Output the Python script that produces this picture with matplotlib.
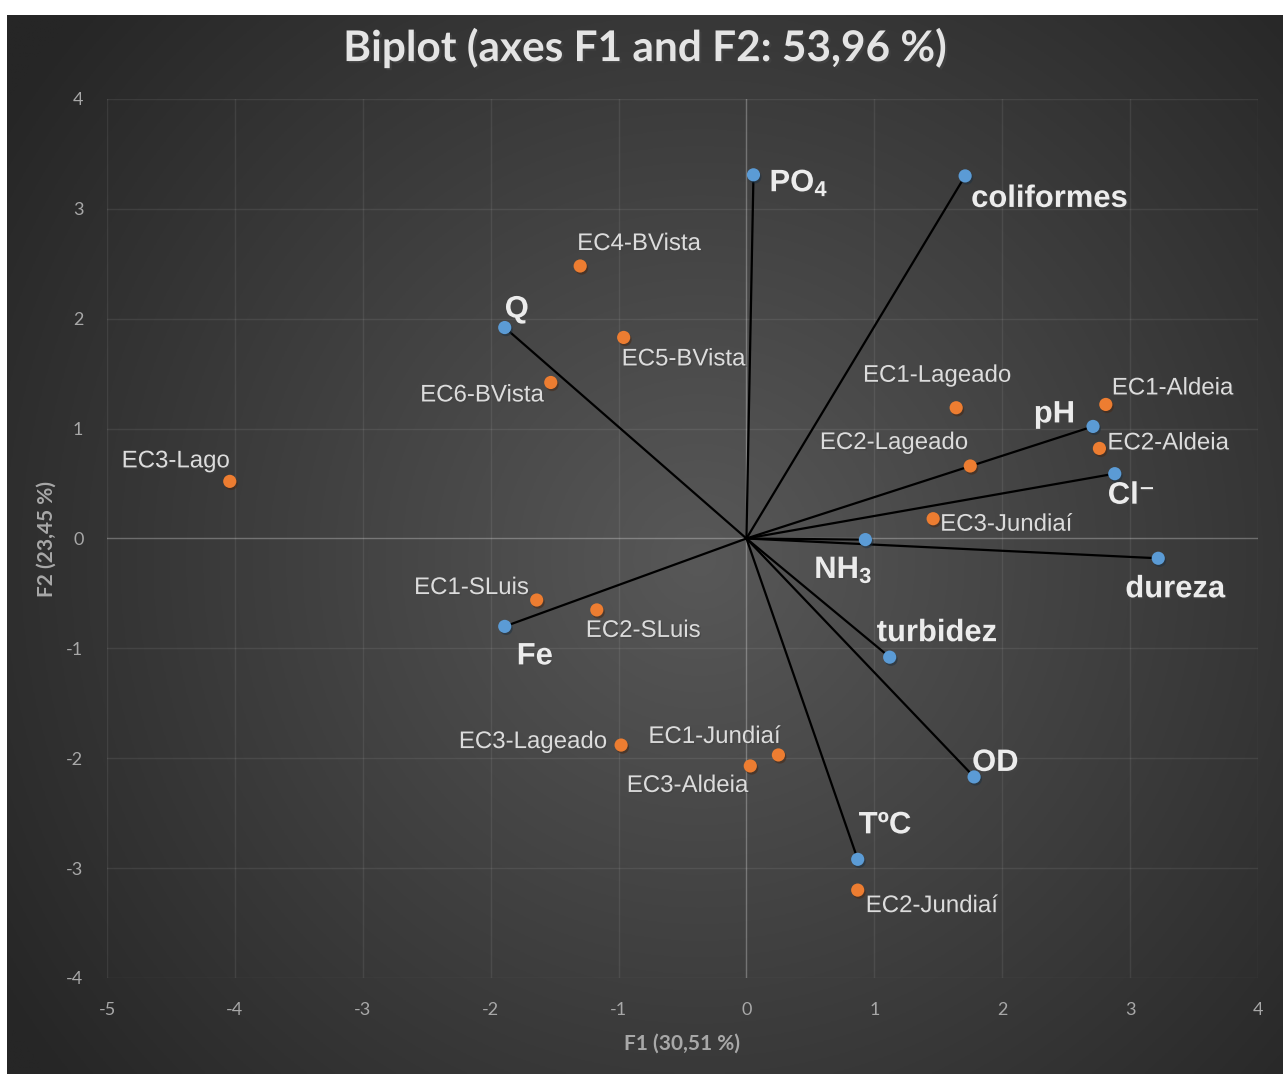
import numpy as np
import matplotlib
matplotlib.use("Agg")
import matplotlib.pyplot as plt
import matplotlib.patheffects as pe

# ---------------- data ----------------
obs_names = ["EC4-BVista", "EC5-BVista", "EC6-BVista", "EC3-Lago", "EC1-Lageado",
             "EC1-Aldeia", "EC2-Aldeia", "EC2-Lageado", "EC3-Jundiaí", "EC1-SLuis",
             "EC2-SLuis", "EC3-Lageado", "EC1-Jundiaí", "EC3-Aldeia", "EC2-Jundiaí"]
obs_f1 = [-1.30, -0.96, -1.53, -4.04, 1.64, 2.81, 2.76, 1.75, 1.46, -1.64,
          -1.17, -0.98, 0.25, 0.03, 0.87]
obs_f2 = [2.48, 1.83, 1.42, 0.52, 1.19, 1.22, 0.82, 0.66, 0.18, -0.56,
          -0.65, -1.88, -1.97, -2.07, -3.20]

var_names = ["PO$_{4}$", "coliformes", "Q", "pH", "Cl⁻", "NH$_{3}$",
             "dureza", "Fe", "turbidez", "OD", "TºC"]
var_f1 = [0.055, 1.71, -1.89, 2.71, 2.88, 0.93, 3.22, -1.89, 1.12, 1.78, 0.87]
var_f2 = [3.31, 3.30, 1.92, 1.02, 0.59, -0.01, -0.18, -0.80, -1.08, -2.17, -2.92]

x_ticks = [-5, -4, -3, -2, -1, 0, 1, 2, 3, 4]
y_ticks = [-4, -3, -2, -1, 0, 1, 2, 3, 4]

title = "Biplot (axes F1 and F2: 53,96 %)"
x_label = "F1 (30,51 %)"
y_label = "F2 (23,45 %)"

# label placement styles (ha, dx px, dy px)
obs_style = [("left", -3, 22), ("left", -2, -22), ("right", -7, -13), ("right", 0, 20),
             ("center", -19, 32), ("left", 6, 16), ("left", 8, 5), ("right", -2, 23),
             ("left", 7, -6), ("right", -8, 12), ("left", -11, -21), ("right", -14, 3),
             ("right", 2, 18), ("right", -2, -20), ("left", 8, -16)]
var_style = [("left", 16, -8), ("left", 6, -23), ("left", 0, 18), ("right", -18, 12),
             ("left", -7, -22), ("center", -22, -30), ("center", 17, -31),
             ("left", 12, -30), ("left", -13, 24), ("left", -2, 14), ("left", 1, 34)]

plt.rcParams["mathtext.fontset"] = "custom"
plt.rcParams["mathtext.rm"] = "Liberation Sans:bold"
plt.rcParams["mathtext.it"] = "Liberation Sans:bold"
plt.rcParams["mathtext.bf"] = "Liberation Sans:bold"
plt.rcParams["mathtext.default"] = "rm"
plt.rcParams["axes.unicode_minus"] = False

W, H = 1283, 1074
fig = plt.figure(figsize=(W / 100, H / 100), dpi=100)
fig.patch.set_facecolor("white")

# background with radial gradient
bg_l, bg_t = 7, 15
bax = fig.add_axes([bg_l / W, 0, 1 - bg_l / W, 1 - bg_t / H], zorder=-10)
bax.set_axis_off()
gx, gy = np.meshgrid(np.linspace(bg_l, W, 400), np.linspace(bg_t, H, 400))
r = np.sqrt((gx - 700) ** 2 + (gy - 560) ** 2) / 830.0
r = np.clip(r, 0, 1)
v = (88 - 50 * r) / 255.0
img = np.dstack([v, v, v])
bax.imshow(img, extent=[0, 1, 0, 1], aspect="auto", origin="upper")
bax.set_xlim(0, 1)
bax.set_ylim(0, 1)

# main axes
L, R, T, B = 107, 1258, 99, 978
ax = fig.add_axes([L / W, 1 - B / H, (R - L) / W, (B - T) / H])
ax.patch.set_alpha(0)
ax.set_xlim(-5, 4)
ax.set_ylim(-4, 4)
for s in ax.spines.values():
    s.set_visible(False)
ax.set_xticks(x_ticks)
ax.set_yticks(y_ticks)
ax.tick_params(length=0, colors="#a8a8a8", labelsize=13, pad=17)
for lab in ax.get_xticklabels() + ax.get_yticklabels():
    lab.set_family("Lato")
ax.grid(True, color="white", alpha=0.08, lw=1.0)
ax.set_axisbelow(True)
ax.axhline(0, color="white", alpha=0.22, lw=1.0, zorder=1)
ax.axvline(0, color="white", alpha=0.22, lw=1.0, zorder=1)

# vectors
for x, y in zip(var_f1, var_f2):
    ax.plot([0, x], [0, y], color="black", lw=1.6, zorder=2, solid_capstyle="round")

ax.scatter(var_f1, var_f2, s=90, color="#5B9BD5", zorder=4, linewidths=0,
           path_effects=[pe.SimplePatchShadow(offset=(1, -1.5), alpha=0.5), pe.Normal()])
ax.scatter(obs_f1, obs_f2, s=90, color="#ED7D31", zorder=4, linewidths=0,
           path_effects=[pe.SimplePatchShadow(offset=(1, -1.5), alpha=0.5), pe.Normal()])

for name, x, y, (ha, dx, dy) in zip(obs_names, obs_f1, obs_f2, obs_style):
    t = ax.annotate(name, (x, y), xytext=(dx, dy), textcoords="offset pixels",
                    ha=ha, va="center", fontsize=17.3, color="#dcdcdc",
                    family=["Liberation Sans", "DejaVu Sans"], zorder=5)
    t.set_path_effects([pe.withSimplePatchShadow(offset=(1, -1), alpha=0.6)])

for name, x, y, (ha, dx, dy) in zip(var_names, var_f1, var_f2, var_style):
    t = ax.annotate(name, (x, y), xytext=(dx, dy), textcoords="offset pixels",
                    ha=ha, va="center", fontsize=22.3, color="#ececec",
                    family=["Liberation Sans", "DejaVu Sans"], fontweight="bold", zorder=5)
    t.set_path_effects([pe.withSimplePatchShadow(offset=(1, -1), alpha=0.6)])

# titles
tt = fig.text(645 / W, 1 - 48 / H, title, ha="center", va="center", fontsize=30.5,
              color="#e4e4e4", family="Lato", fontweight="bold")
tt.set_path_effects([pe.withSimplePatchShadow(offset=(1.5, -1.5), alpha=0.7)])
fig.text(682 / W, 1 - 1044 / H, x_label, ha="center", va="center", fontsize=15,
         color="#a8a8a8", family="Lato", fontweight="bold")
fig.text(47 / W, 1 - 539 / H, y_label, ha="center", va="center", fontsize=15,
         color="#a8a8a8", family="Lato", fontweight="bold", rotation=90)

fig.savefig("out.png", dpi=100, facecolor=fig.get_facecolor())
